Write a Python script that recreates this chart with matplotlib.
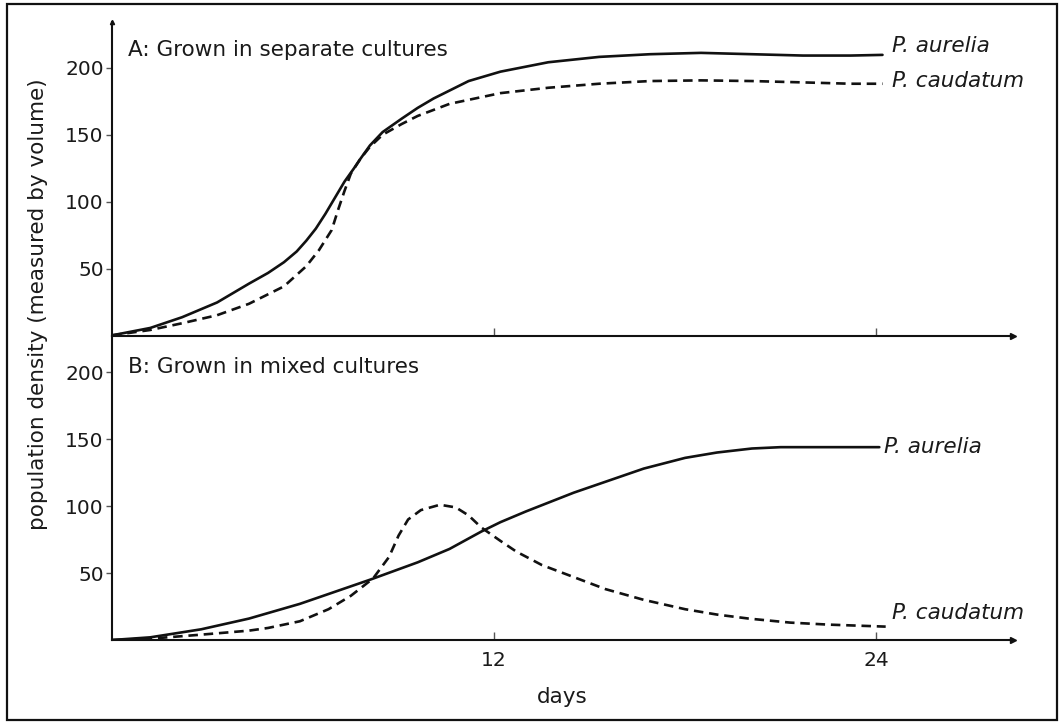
import matplotlib
matplotlib.use("Agg")
import matplotlib.pyplot as plt
from matplotlib.patches import Rectangle

# Panel A: grown in separate cultures
days_a = [0, 1.2, 2.2, 3.3, 4.3, 4.9, 5.4, 5.8, 6.1, 6.4, 6.7, 7.0, 7.3, 7.6,
          7.8, 8.1, 8.5, 9.1, 9.6, 10.1, 11.2, 12.2, 13.7, 15.3, 16.9, 18.5,
          20.1, 21.7, 23.2, 24.2]
aurelia_a = [0.5, 6, 14, 25, 39, 47, 55, 63, 71, 80, 91, 103, 115, 125,
             132, 142, 152, 162, 170, 177, 190, 197, 204, 208, 210, 211,
             210, 209, 209, 209.5]

days_ca = [0, 1.2, 2.2, 3.3, 4.3, 5.4, 6.1, 6.5, 6.9, 7.1, 7.3, 7.5, 7.8, 8.1,
           8.5, 9.1, 9.6, 10.6, 12.2, 13.7, 15.3, 16.9, 18.5, 20.1, 21.7,
           23.2, 24.2]
caudatum_a = [0.5, 4.5, 9.5, 15.5, 24, 37, 52, 64, 79, 94, 108, 121, 132, 141,
              150, 158, 164, 173, 181, 185, 188, 190, 190.5, 190, 189,
              188, 188]

# Panel B: grown in mixed cultures
days_b = [0, 1.2, 2.8, 4.3, 5.9, 7.0, 8.1, 9.6, 10.6, 11.6, 12.2, 13.0,
          14.5, 16.7, 18.0, 19.0, 20.1, 21.0, 22.0, 24.1]
aurelia_b = [0, 2, 8, 16, 27, 36, 45, 58, 68, 81, 88, 96,
             110, 128, 136, 140, 143, 144, 144, 144]

days_cb = [0, 1.2, 2.8, 4.3, 4.9, 5.9, 6.8, 7.5, 8.2, 8.7, 9.0, 9.3, 9.7, 10.3,
           10.8, 11.2, 11.6, 12.2, 12.7, 13.5, 14.5, 15.5, 16.7, 18.0, 19.0,
           20.0, 21.3, 22.5, 24.3]
caudatum_b = [0, 1, 4, 7, 9, 14, 23, 33, 46, 62, 78, 90, 97, 101,
              99, 93, 84, 74, 66, 56, 47, 38, 30, 23, 19,
              16, 13, 11.5, 10]

yticks = [50, 100, 150, 200]
xticks = [12, 24]

FS = 15.5      # titles, labels
FS_TICK = 14.5
TXT = '#1a1a1a'
plt.rcParams['font.family'] = ['DejaVu Sans']

fig = plt.figure(figsize=(10.64, 7.24), dpi=100)
axA = fig.add_axes([0.1053, 0.5359, 0.8468, 0.4337])
axB = fig.add_axes([0.1053, 0.1160, 0.8468, 0.4199])


def style_axis(ax, ymax):
	ax.set_xlim(0, 28.3)
	ax.set_ylim(0, ymax)
	for side in ['top', 'right']:
		ax.spines[side].set_visible(False)
	for side in ['left', 'bottom']:
		ax.spines[side].set_linewidth(1.5)
		ax.spines[side].set_color('#111111')
	ax.set_yticks(yticks)
	ax.set_xticks(xticks)
	ax.tick_params(axis='y', direction='out', length=4, width=1, colors='#555555',
				   labelcolor=TXT, labelsize=FS_TICK, pad=2)
	ax.tick_params(axis='x', direction='in', length=6, width=1, colors='#555555',
				   labelcolor=TXT, labelsize=FS_TICK, pad=8)
	# arrow head at the end of the x axis
	ax.plot(1, 0, '>', color='#111111', markersize=5,
			transform=ax.get_yaxis_transform(), clip_on=False)
	ax.patch.set_alpha(0)


style_axis(axA, 234)
style_axis(axB, 227)
axA.tick_params(axis='x', labelbottom=False)
axA.plot(0, 1, '^', color='#111111', markersize=3,
		 transform=axA.get_xaxis_transform(), clip_on=False)

dash = (3.6, 2.2)
axA.plot(days_a, aurelia_a, color='#111111', lw=1.9, solid_capstyle='round')
axA.plot(days_ca, caudatum_a, color='#111111', lw=1.9, dashes=dash)
axB.plot(days_b, aurelia_b, color='#111111', lw=1.9, solid_capstyle='round')
axB.plot(days_cb, caudatum_b, color='#111111', lw=1.9, dashes=dash)

axA.text(0.5, 213, 'A: Grown in separate cultures', fontsize=FS, color=TXT, va='center')
axB.text(0.5, 204, 'B: Grown in mixed cultures', fontsize=FS, color=TXT, va='center')

axA.text(24.5, 216, 'P. aurelia', fontsize=FS, style='italic', color=TXT, va='center')
axA.text(24.5, 190, 'P. caudatum', fontsize=FS, style='italic', color=TXT, va='center')
axB.text(24.25, 144, 'P. aurelia', fontsize=FS, style='italic', color=TXT, va='center')
axB.text(24.5, 20, 'P. caudatum', fontsize=FS, style='italic', color=TXT, va='center')

axB.set_xlabel('days', fontsize=FS, color=TXT, labelpad=12)
fig.text(0.036, 0.58, 'population density (measured by volume)', rotation=90,
		 fontsize=FS, color=TXT, ha='center', va='center')

# frame round the whole picture
fig.patches.append(Rectangle((7 / 1064, 1 - 720 / 724), 1050 / 1064, 716 / 724,
							 transform=fig.transFigure, fill=False,
							 edgecolor='#111111', linewidth=1.6))

fig.savefig('out.png', dpi=100)
